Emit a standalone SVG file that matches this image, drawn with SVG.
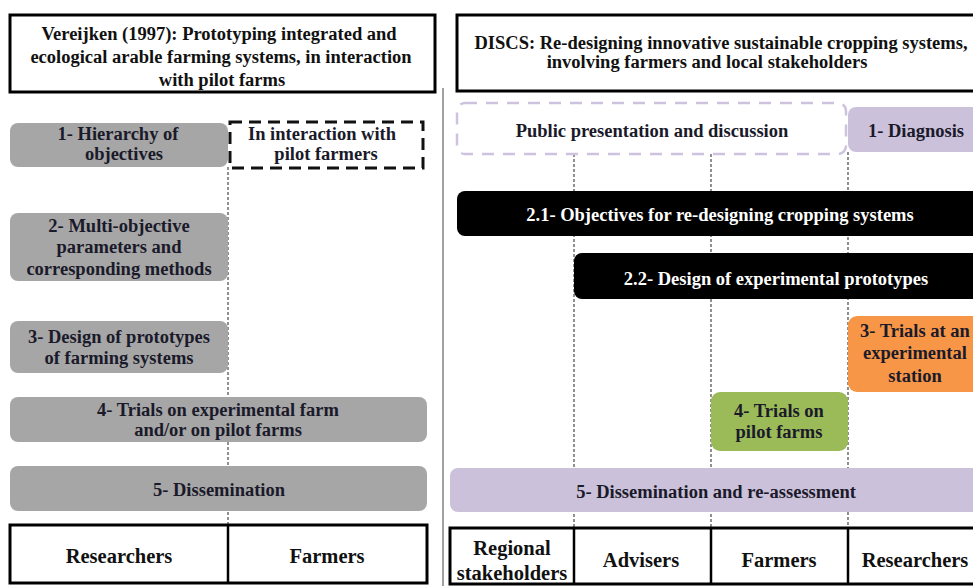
<svg xmlns="http://www.w3.org/2000/svg" width="973" height="586" viewBox="0 0 973 586">
<style>
text{font-family:'Liberation Serif','Times New Roman','DejaVu Serif',serif;font-weight:bold;font-size:18.5px;text-anchor:middle;fill:#1a1a2a}
.w{fill:#ffffff}
.tb{font-size:20.5px;fill:#111}
.hd{fill:#111}
.gray{fill:#a6a6a6}
.lav{fill:#ccc1da}
.frame{fill:#fff;stroke:#000;stroke-width:3}
.dot{stroke:#555;stroke-width:1.3;stroke-dasharray:3 2;fill:none}
</style>
<rect width="973" height="586" fill="#fff"/>
<g id="connectors">
<line class="dot" x1="228" y1="167" x2="228" y2="525"/>
<line class="dot" x1="574" y1="154" x2="574" y2="528"/>
<line class="dot" x1="711" y1="154" x2="711" y2="528"/>
<line class="dot" x1="848" y1="152" x2="848" y2="528"/>
<line x1="443" y1="88" x2="443" y2="586" stroke="#8a8a8a" stroke-width="1.6"/>
</g>
<g id="left-header">
<rect class="frame" x="10" y="15" width="425" height="77"/>
<text class="hd" x="219" y="40">Vereijken (1997): Prototyping integrated and</text>
<text class="hd" x="221" y="63">ecological arable farming systems, in interaction</text>
<text class="hd" x="222" y="86">with pilot farms</text>
</g>
<g id="right-header">
<rect class="frame" x="457" y="15" width="530" height="76"/>
<text class="hd" x="721" y="49">DISCS: Re-designing innovative sustainable cropping systems,</text>
<text class="hd" x="707" y="68">involving farmers and local stakeholders</text>
</g>
<g id="l1">
<rect class="gray" x="10" y="123" width="218" height="44" rx="8"/>
<text x="118" y="140">1- Hierarchy of</text>
<text x="124" y="160">objectives</text>
</g>
<g id="l-interaction">
<rect x="230" y="122" width="193" height="46" fill="none" stroke="#111" stroke-width="3" stroke-dasharray="12 7"/>
<text x="322" y="140">In interaction with</text>
<text x="326" y="160">pilot farmers</text>
</g>
<g id="l2">
<rect class="gray" x="10" y="213" width="218" height="68" rx="8"/>
<text x="119" y="232">2- Multi-objective</text>
<text x="119" y="253">parameters and</text>
<text x="119" y="275">corresponding methods</text>
</g>
<g id="l3">
<rect class="gray" x="10" y="321" width="218" height="52" rx="8"/>
<text x="119" y="343">3- Design of prototypes</text>
<text x="119" y="364">of farming systems</text>
</g>
<g id="l4">
<rect class="gray" x="10" y="397" width="417" height="45" rx="8"/>
<text x="218" y="416">4- Trials on experimental farm</text>
<text x="218" y="436">and/or on pilot farms</text>
</g>
<g id="l5">
<rect class="gray" x="10" y="466" width="417" height="45" rx="8"/>
<text x="219" y="496">5- Dissemination</text>
</g>
<g id="l-table">
<rect class="frame" x="10" y="525" width="417" height="58"/>
<line x1="228" y1="525" x2="228" y2="583" stroke="#000" stroke-width="2.5"/>
<text class="tb" x="119" y="563">Researchers</text>
<text class="tb" x="327" y="563">Farmers</text>
</g>
<g id="r-public">
<rect x="457" y="103" width="389" height="51" rx="8" fill="none" stroke="#cdc3de" stroke-width="2.5" stroke-dasharray="12 9"/>
<text x="652" y="137">Public presentation and discussion</text>
</g>
<g id="r1">
<rect class="lav" x="848" y="107" width="140" height="45" rx="8"/>
<text x="916" y="137">1- Diagnosis</text>
</g>
<g id="r21">
<rect x="457" y="191" width="540" height="45" rx="8" fill="#000"/>
<text class="w" x="720" y="221">2.1- Objectives for re-designing cropping systems</text>
</g>
<g id="r22">
<rect x="574" y="253" width="420" height="46" rx="8" fill="#000"/>
<text class="w" x="776" y="285">2.2- Design of experimental prototypes</text>
</g>
<g id="r3">
<rect x="848" y="316" width="145" height="76" rx="9" fill="#f79646"/>
<text x="915" y="337">3- Trials at an</text>
<text x="915" y="359">experimental</text>
<text x="915" y="382">station</text>
</g>
<g id="r4">
<rect x="711" y="392" width="137" height="59" rx="9" fill="#9bbb59"/>
<text x="779" y="417">4- Trials on</text>
<text x="779" y="438">pilot farms</text>
</g>
<g id="r5">
<rect class="lav" x="450" y="468" width="540" height="44" rx="8"/>
<text x="716" y="498">5- Dissemination and re-assessment</text>
</g>
<g id="r-table">
<rect class="frame" x="450" y="528" width="540" height="56"/>
<line x1="574" y1="528" x2="574" y2="584" stroke="#000" stroke-width="2.5"/>
<line x1="711" y1="528" x2="711" y2="584" stroke="#000" stroke-width="2.5"/>
<line x1="848" y1="528" x2="848" y2="584" stroke="#000" stroke-width="2.5"/>
<text class="tb" x="512" y="555">Regional</text>
<text class="tb" x="512" y="580">stakeholders</text>
<text class="tb" x="641" y="567">Advisers</text>
<text class="tb" x="779" y="567">Farmers</text>
<text class="tb" x="915" y="567">Researchers</text>
</g>
</svg>
